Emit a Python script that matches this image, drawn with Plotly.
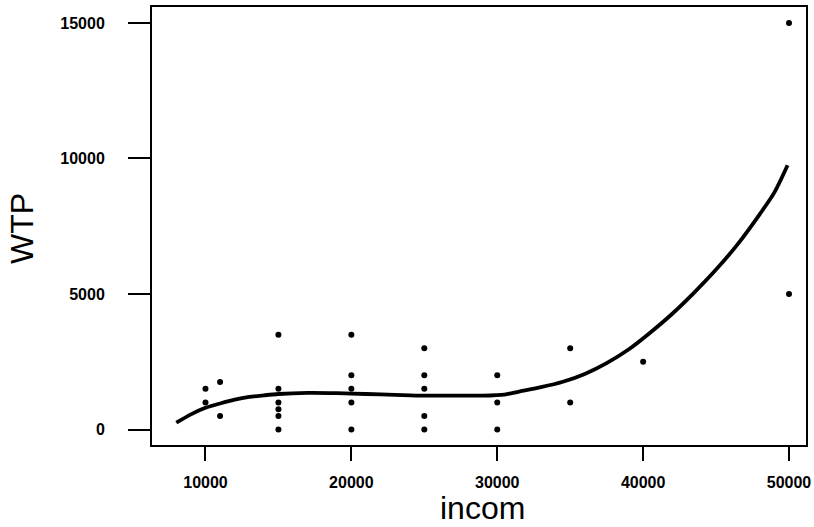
import plotly.graph_objects as go

# Observed data points
incom = [10000, 10000, 11000, 11000,
         15000, 15000, 15000, 15000, 15000, 15000,
         20000, 20000, 20000, 20000, 20000,
         25000, 25000, 25000, 25000, 25000,
         30000, 30000, 30000,
         35000, 35000,
         40000,
         50000, 50000]
wtp = [1500, 1000, 1750, 500,
       3500, 1500, 1000, 750, 500, 0,
       3500, 2000, 1500, 1000, 0,
       3000, 2000, 1500, 500, 0,
       2000, 1000, 0,
       3000, 1000,
       2500,
       15000, 5000]

# Smoothed fit curve
fit_x = [8000, 9000, 10000, 11000, 12000, 13000, 14000, 15000, 17000, 19000,
         21000, 23000, 25000, 27000, 29000, 30500, 31500, 33000, 34500, 36000,
         37500, 39000, 40500, 42000, 43500, 45000, 46500, 48000, 49000, 49900]
fit_y = [250, 560, 800, 960, 1100, 1200, 1260, 1310, 1350, 1340,
         1310, 1280, 1250, 1250, 1250, 1290, 1400, 1560, 1760, 2050,
         2450, 2950, 3580, 4270, 5050, 5900, 6850, 7950, 8750, 9750]

x_ticks = [10000, 20000, 30000, 40000, 50000]
y_ticks = [0, 5000, 10000, 15000]

fig = go.Figure()
fig.add_trace(go.Scatter(x=fit_x, y=fit_y, mode="lines",
                         line=dict(color="black", width=3.8, shape="spline", smoothing=0.8),
                         showlegend=False, hoverinfo="skip"))
fig.add_trace(go.Scatter(x=incom, y=wtp, mode="markers",
                         marker=dict(color="black", size=6),
                         showlegend=False))

tick_font = dict(family="Liberation Sans, Arial, sans-serif", size=16, color="black", weight="bold")

fig.update_layout(
    width=814, height=527,
    margin=dict(l=152, r=8, t=7, b=82, autoexpand=False),
    paper_bgcolor="white", plot_bgcolor="white",
    font=dict(family="Liberation Sans, Arial, sans-serif", color="black"),
    xaxis=dict(range=[6333, 51165], tickvals=x_ticks, ticktext=[str(v) for v in x_ticks],
               showgrid=False, zeroline=False, showline=True, mirror=True, automargin=False,
               linecolor="black", linewidth=2, ticks="outside", ticklen=14,
               tickwidth=2, tickcolor="black", tickfont=tick_font, ticklabelstandoff=8),
    yaxis=dict(range=[-572, 15590], tickvals=y_ticks, ticktext=[str(v) for v in y_ticks],
               showgrid=False, zeroline=False, showline=True, mirror=True, automargin=False,
               linecolor="black", linewidth=2, ticks="outside", ticklen=22,
               tickwidth=2, tickcolor="black", tickfont=tick_font, ticklabelstandoff=20),
    annotations=[
        dict(text="WTP", xref="paper", yref="paper", x=-0.1988, y=0.4954,
             xanchor="center", yanchor="middle", textangle=-90, showarrow=False,
             font=dict(family="Liberation Sans, Arial, sans-serif", size=32, color="black")),
        dict(text="incom", xref="paper", yref="paper", x=0.5046, y=-0.1438,
             xanchor="center", yanchor="middle", showarrow=False,
             font=dict(family="Liberation Sans, Arial, sans-serif", size=32, color="black")),
    ],
)

fig.write_html("out.html", config={"displayModeBar": False},
               post_script="document.body.style.margin='0';document.body.style.overflow='hidden';")
